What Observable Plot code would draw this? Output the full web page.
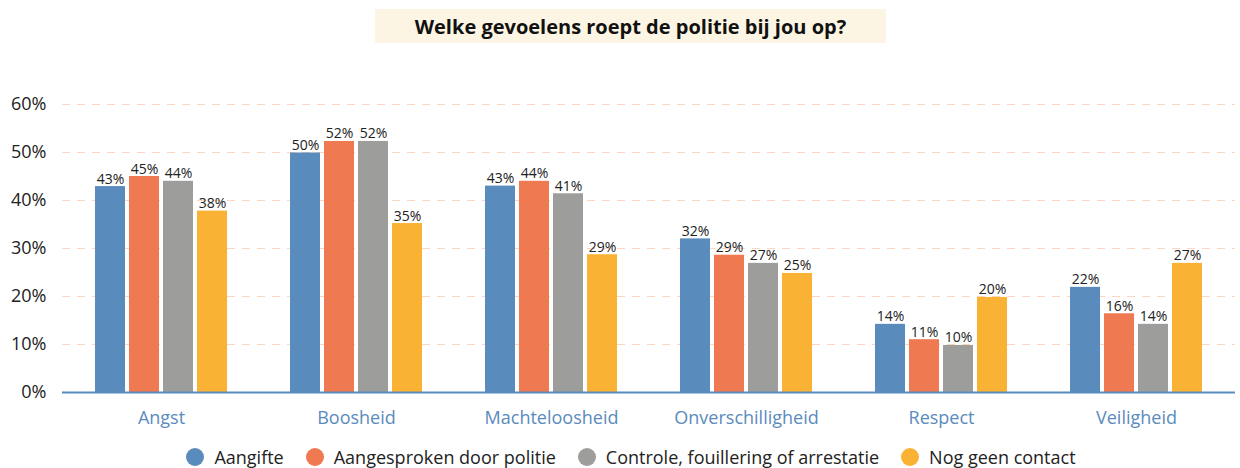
<!DOCTYPE html>
<html>
<head>
<meta charset="utf-8">
<script src="https://cdn.jsdelivr.net/npm/d3@7"></script>
<script src="https://cdn.jsdelivr.net/npm/@observablehq/plot@0.6"></script>
<style>
  html, body { margin: 0; padding: 0; background: #fff; width: 1240px; height: 468px; overflow: hidden; font-family: "Open Sans", sans-serif; }
  #title { height: 50px; position: relative; }
  #title div { position: absolute; left: 375px; top: 9px; width: 511px; height: 34px; background: #fdf5e4;
    display: flex; align-items: center; justify-content: center; font-weight: bold; font-size: 20px; color: #111; }
  #chart { height: 395px; position: relative; }
  #chart svg { position: absolute; left: 0; top: 0; }
  #legend { height: 23px; display: flex; align-items: center; justify-content: center; padding-left: 22px; font-size: 18px; color: #222; }
  #legend .item { display: flex; align-items: center; margin: 0 11px; }
  #legend .dot { width: 18px; height: 18px; border-radius: 50%; margin-right: 10px; }
</style>
</head>
<body>
<div id="title"><div>Welke gevoelens roept de politie bij jou op?</div></div>
<div id="chart"></div>
<div id="legend"></div>
<script>
const categories = ["Angst", "Boosheid", "Machteloosheid", "Onverschilligheid", "Respect", "Veiligheid"];
const series = ["Aangifte", "Aangesproken door politie", "Controle, fouillering of arrestatie", "Nog geen contact"];
const colors = ["#5a8bbd", "#ef7950", "#9d9d9b", "#f9b233"];
const aangifte     = [42.9, 49.9, 43.0, 32.0, 14.2, 21.9];
const aangesproken = [45.0, 52.3, 44.0, 28.6, 11.0, 16.4];
const controle     = [44.0, 52.3, 41.4, 26.9, 9.8, 14.2];
const geenContact  = [37.8, 35.2, 28.7, 24.8, 19.8, 26.9];
const yTicks = [0, 10, 20, 30, 40, 50, 60];
const gridTicks = [10, 20, 30, 40, 50, 60];

const seriesValues = [aangifte, aangesproken, controle, geenContact];
const data = [];
categories.forEach((c, i) => {
  series.forEach((s, j) => data.push({category: c, series: s, value: seriesValues[j][i]}));
});

const common = {
  width: 1240,
  height: 395,
  marginTop: 54,
  marginBottom: 53,
  marginLeft: 62,
  marginRight: 5,
  style: {fontFamily: "Open Sans, sans-serif", background: "transparent"},
  y: {domain: [0, 60], label: null}
};

// background: grid + y axis (full width)
const back = Plot.plot({
  ...common,
  marks: [
    Plot.ruleY(gridTicks, {y: d => d, stroke: "#fcd6c0", strokeWidth: 1, strokeDasharray: "8,7"}),
    Plot.axisY(yTicks, {tickSize: 0, tickPadding: 16, fontSize: 18, fill: "#222", tickFormat: d => d + "%", label: null})
  ]
});

// bars, value labels, category labels
const bars = Plot.plot({
  ...common,
  fx: {domain: categories, paddingInner: 0.325, paddingOuter: 0.164, label: null},
  x: {domain: series, paddingInner: 0.12, paddingOuter: 0, axis: null},
  color: {domain: series, range: colors},
  marks: [
    Plot.barY(data, {fx: "category", x: "series", y: "value", fill: "series"}),
    Plot.text(data, {fx: "category", x: "series", y: "value", text: d => Math.round(d.value) + "%",
      lineAnchor: "bottom", dy: -3, fontSize: 14, fill: "#222"}),
    Plot.axisFx({anchor: "bottom", tickSize: 0, tickPadding: 19, fontSize: 18, fill: "#5a8bbd", label: null}),
    Plot.axisY({ticks: [], label: null})
  ]
});

// baseline on top (full width)
const base = Plot.plot({
  ...common,
  y: {domain: [0, 60], label: null, axis: null},
  marks: [
    Plot.ruleY([0], {stroke: "#5a8bbd", strokeWidth: 2})
  ]
});

const chart = document.getElementById("chart");
chart.appendChild(back);
chart.appendChild(bars);
chart.appendChild(base);

const legend = document.getElementById("legend");
series.forEach((s, i) => {
  const item = document.createElement("div");
  item.className = "item";
  const dot = document.createElement("span");
  dot.className = "dot";
  dot.style.background = colors[i];
  const label = document.createElement("span");
  label.textContent = s;
  item.appendChild(dot);
  item.appendChild(label);
  legend.appendChild(item);
});
</script>
</body>
</html>
